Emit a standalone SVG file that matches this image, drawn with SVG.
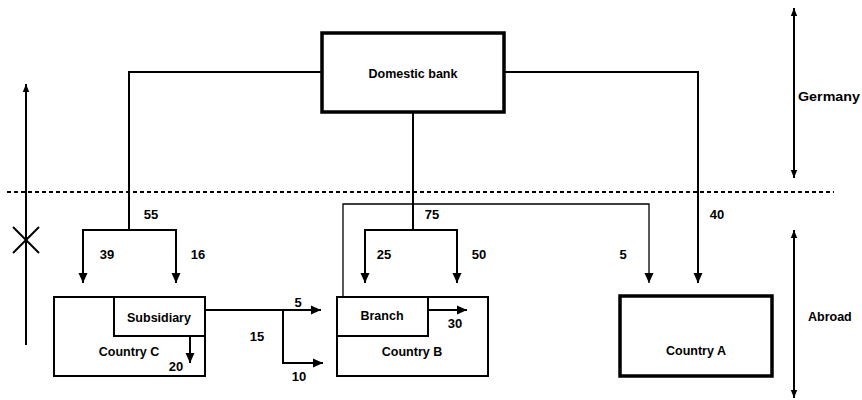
<svg xmlns="http://www.w3.org/2000/svg" width="862" height="400" viewBox="0 0 862 400">
  <defs>
    <marker id="ah" markerUnits="userSpaceOnUse" markerWidth="10" markerHeight="10" refX="10" refY="5" orient="auto">
      <path d="M0,0.5 L10,5 L0,9.5 z" fill="#000"/>
    </marker>
    <marker id="ahs" markerUnits="userSpaceOnUse" markerWidth="8" markerHeight="8" refX="8" refY="4" orient="auto">
      <path d="M0,0.8 L8,4 L0,7.2 z" fill="#000"/>
    </marker>
    <marker id="ahst" markerUnits="userSpaceOnUse" markerWidth="8" markerHeight="8" refX="0" refY="4" orient="auto">
      <path d="M8,0.8 L0,4 L8,7.2 z" fill="#000"/>
    </marker>
  </defs>
  <style>
    text { font-family: "Liberation Sans", Arial, sans-serif; font-weight: bold; font-size: 12.5px; fill: #000; }
    .c { text-anchor: middle; }
    .n { font-size: 13px; text-anchor: middle; }
    .box { fill: none; stroke: #000; stroke-width: 2; }
    .thick { fill: none; stroke: #000; stroke-width: 3.5; }
    .ln { fill: none; stroke: #000; stroke-width: 2; }
    .thin { fill: none; stroke: #000; stroke-width: 1.3; }
    .arr { marker-end: url(#ah); }
  </style>

  <g id="domestic-bank">
    <rect x="322" y="33" width="182" height="79" class="thick"/>
    <text x="413" y="77.5" class="c">Domestic bank</text>
  </g>

  <g id="country-c">
    <rect x="54" y="297" width="151" height="79" class="box"/>
    <text x="129" y="356" class="c">Country C</text>
  </g>
  <g id="subsidiary">
    <rect x="114" y="297" width="91" height="39" class="box"/>
    <text x="159" y="322" class="c">Subsidiary</text>
  </g>

  <g id="country-b">
    <rect x="337" y="297" width="151" height="79" class="box"/>
    <text x="412" y="356" class="c">Country B</text>
  </g>
  <g id="branch">
    <rect x="337" y="297" width="91" height="39" class="box"/>
    <text x="382" y="320" class="c">Branch</text>
  </g>

  <g id="country-a">
    <rect x="620" y="296" width="152" height="80" class="thick"/>
    <text x="696" y="355" class="c">Country A</text>
  </g>

  <g id="region-labels">
    <text x="798" y="101" textLength="62" lengthAdjust="spacingAndGlyphs">Germany</text>
    <text x="808" y="321">Abroad</text>
  </g>

  <g id="connectors">
    <line x1="7" y1="192" x2="834" y2="192" stroke="#000" stroke-width="2" stroke-dasharray="4,3"/>
    <!-- left barrier arrow with X -->
    <line x1="26" y1="345" x2="26" y2="84" class="ln" stroke-width="1.8" marker-end="url(#ahs)"/>
    <line x1="13" y1="227" x2="39" y2="253" class="ln" stroke-width="1.8"/>
    <line x1="39" y1="227" x2="13" y2="253" class="ln" stroke-width="1.8"/>
    <!-- Germany / Abroad arrows -->
    <line x1="794" y1="8" x2="794" y2="178" class="ln" marker-start="url(#ahst)" marker-end="url(#ahs)"/>
    <line x1="794" y1="230" x2="794" y2="398" class="ln" marker-start="url(#ahst)" marker-end="url(#ahs)"/>
    <!-- to Country C -->
    <polyline points="322,72 129,72 129,230" class="ln"/>
    <polyline points="129,230 83,230 83,283" class="ln arr"/>
    <polyline points="129,230 176,230 176,283" class="ln arr"/>
    <!-- to Country B -->
    <line x1="413" y1="112" x2="413" y2="230" class="ln"/>
    <polyline points="413,230 365,230 365,283" class="ln arr"/>
    <polyline points="413,230 457,230 457,283" class="ln arr"/>
    <!-- to Country A -->
    <polyline points="504,72 698,72 698,283" class="ln arr"/>
    <!-- Branch to Country A -->
    <polyline points="343,297 343,204 649,204 649,283" class="thin arr"/>
    <!-- Subsidiary outflows -->
    <line x1="205" y1="310" x2="321" y2="310" class="ln arr"/>
    <polyline points="283,310 283,363 323,363" class="ln arr"/>
    <line x1="190" y1="336" x2="190" y2="363" class="ln arr"/>
    <!-- Branch outflow -->
    <line x1="428" y1="310" x2="467" y2="310" class="ln arr"/>
  </g>

  <g id="flow-labels">
    <text x="151" y="219" class="n">55</text>
    <text x="107" y="259" class="n">39</text>
    <text x="198" y="259" class="n">16</text>
    <text x="432" y="219" class="n">75</text>
    <text x="384" y="259" class="n">25</text>
    <text x="479" y="259" class="n">50</text>
    <text x="717" y="219" class="n">40</text>
    <text x="623" y="259" class="n">5</text>
    <text x="298" y="307" class="n">5</text>
    <text x="257" y="341" class="n">15</text>
    <text x="299" y="381" class="n">10</text>
    <text x="455" y="328" class="n">30</text>
    <text x="176" y="371" class="n">20</text>
  </g>
</svg>
